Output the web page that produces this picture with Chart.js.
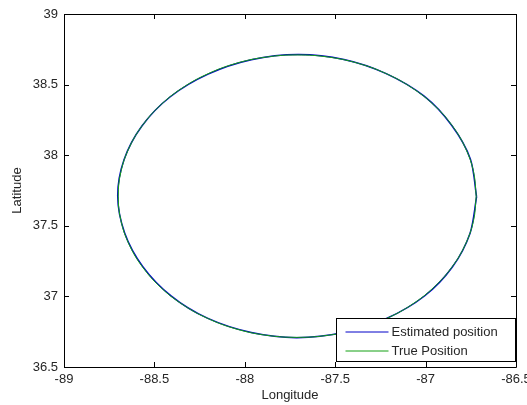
<!DOCTYPE html>
<html>
<head>
<meta charset="utf-8">
<script src="https://cdn.jsdelivr.net/npm/chart.js@4/dist/chart.umd.min.js"></script>
<style>
  html, body { margin: 0; padding: 0; background: #fff; }
  canvas { display: block; }
</style>
</head>
<body>
<canvas id="posChart" width="527" height="405"></canvas>
<script>
"use strict"

// data
const trueLon = [-86.72, -86.735, -86.78, -86.853, -86.952, -87.074, -87.215, -87.371, -87.538,
  -87.71, -87.882, -88.049, -88.205, -88.346, -88.468, -88.567, -88.64, -88.685,
  -88.70, -88.685, -88.64, -88.567, -88.468, -88.346, -88.205, -88.049, -87.882,
  -87.71, -87.538, -87.371, -87.215, -87.074, -86.952, -86.853, -86.78, -86.735, -86.72];
const trueLat = [37.71, 37.884, 38.052, 38.21, 38.353, 38.476, 38.576, 38.65, 38.695,
  38.71, 38.695, 38.65, 38.576, 38.476, 38.353, 38.21, 38.052, 37.884,
  37.71, 37.536, 37.368, 37.21, 37.067, 36.944, 36.844, 36.77, 36.725,
  36.71, 36.725, 36.77, 36.844, 36.944, 37.067, 37.21, 37.368, 37.536, 37.71];

const estLon = [-86.718, -86.752, -86.856, -87.008, -87.218, -87.452, -87.705, -87.964,
  -88.203, -88.412, -88.569, -88.668, -88.703, -88.665, -88.565, -88.408,
  -88.207, -87.964, -87.713, -87.454, -87.213, -87.006, -86.852, -86.754, -86.718];
const estLat = [37.705, 37.972, 38.212, 38.418, 38.578, 38.678, 38.713, 38.676,
  38.574, 38.414, 38.207, 37.968, 37.712, 37.451, 37.213, 37.004,
  36.846, 36.744, 36.708, 36.744, 36.846, 37.003, 37.208, 37.448, 37.705];

const xTicks = [-89, -88.5, -88, -87.5, -87, -86.5];
const yTicks = [36.5, 37, 37.5, 38, 38.5, 39];

const seriesNames = ["Estimated position", "True Position"];
const seriesColors = ["#0000c8", "#12a012"];

const fontFamily = "'Liberation Sans', Arial, Helvetica, sans-serif";
const textColor = "#262626";

function toPoints(xs, ys) {
  return xs.map((x, i) => ({ x: x, y: ys[i] }));
}

// box with inward ticks on all four sides, matlab style
const axesBox = {
  id: "axesBox",
  afterDraw(chart) {
    const ctx = chart.ctx;
    const area = chart.chartArea;
    const xs = chart.scales.x;
    const ys = chart.scales.y;
    const len = 5;
    ctx.save();
    ctx.strokeStyle = "#000";
    ctx.lineWidth = 1;
    ctx.beginPath();
    ctx.rect(Math.round(area.left) + 0.5, Math.round(area.top) + 0.5,
      Math.round(area.right - area.left), Math.round(area.bottom - area.top));
    for (let v of xTicks) {
      let px = Math.round(xs.getPixelForValue(v)) + 0.5;
      ctx.moveTo(px, area.bottom);
      ctx.lineTo(px, area.bottom - len);
      ctx.moveTo(px, area.top);
      ctx.lineTo(px, area.top + len);
    }
    for (let v of yTicks) {
      let py = Math.round(ys.getPixelForValue(v)) + 0.5;
      ctx.moveTo(area.left, py);
      ctx.lineTo(area.left + len, py);
      ctx.moveTo(area.right, py);
      ctx.lineTo(area.right - len, py);
    }
    ctx.stroke();
    ctx.restore();
  }
};

// legend box in the lower right corner of the plot
const boxLegend = {
  id: "boxLegend",
  afterDraw(chart) {
    const ctx = chart.ctx;
    const area = chart.chartArea;
    const w = 179;
    const h = 43;
    const left = Math.round(area.right) - w - 1 + 0.5;
    const top = Math.round(area.bottom) - h - 6 + 0.5;
    ctx.save();
    ctx.fillStyle = "#fff";
    ctx.strokeStyle = "#000";
    ctx.lineWidth = 1;
    ctx.fillRect(left, top, w, h);
    ctx.strokeRect(left, top, w, h);
    ctx.font = "13px " + fontFamily;
    ctx.textBaseline = "middle";
    ctx.fillStyle = textColor;
    chart.data.datasets.forEach((ds, i) => {
      let y = Math.round(top + 13 + i * 19);
      ctx.strokeStyle = ds.borderColor;
      ctx.beginPath();
      ctx.moveTo(left + 9, y);
      ctx.lineTo(left + 52, y);
      ctx.stroke();
      ctx.fillText(ds.label, left + 55, y);
    });
    ctx.restore();
  }
};

const ctx = document.getElementById("posChart").getContext("2d");

const posChart = new Chart(ctx, {
  type: "scatter",
  data: {
    datasets: [{
      label: seriesNames[0],
      data: toPoints(estLon, estLat),
      showLine: true,
      borderColor: seriesColors[0],
      borderWidth: 1.5,
      pointRadius: 0,
      tension: 0.3,
      order: 2
    }, {
      label: seriesNames[1],
      data: toPoints(trueLon, trueLat),
      showLine: true,
      borderColor: seriesColors[1],
      borderWidth: 1,
      pointRadius: 0,
      tension: 0.4,
      order: 1
    }]
  },
  options: {
    responsive: false,
    animation: false,
    layout: { padding: { top: 14, right: 11, left: 0, bottom: 0 } },
    plugins: {
      legend: { display: false },
      tooltip: { enabled: false }
    },
    scales: {
      x: {
        type: "linear",
        min: -89,
        max: -86.5,
        grid: { display: false, drawTicks: false },
        border: { display: false },
        afterBuildTicks: (scale) => { scale.ticks = xTicks.map(v => ({ value: v })); },
        afterFit: (scale) => {
          scale.height = 38;
          scale.paddingLeft = 0;
          scale.paddingRight = 0;
        },
        ticks: {
          padding: 5,
          maxRotation: 0,
          color: textColor,
          font: { family: fontFamily, size: 13 },
          callback: (value) => String(value)
        },
        title: {
          display: true,
          text: "Longitude",
          color: textColor,
          padding: { top: 0, bottom: 2 },
          font: { family: fontFamily, size: 13 }
        }
      },
      y: {
        type: "linear",
        min: 36.5,
        max: 39,
        grid: { display: false, drawTicks: false },
        border: { display: false },
        afterBuildTicks: (scale) => { scale.ticks = yTicks.map(v => ({ value: v })); },
        afterFit: (scale) => {
          scale.width = 64;
          scale.paddingTop = 0;
          scale.paddingBottom = 0;
        },
        ticks: {
          padding: 6,
          color: textColor,
          font: { family: fontFamily, size: 13 },
          callback: (value) => String(value)
        },
        title: {
          display: true,
          text: "Latitude",
          color: textColor,
          padding: { top: 10, bottom: 0 },
          font: { family: fontFamily, size: 13 }
        }
      }
    }
  },
  plugins: [axesBox, boxLegend]
});
</script>
</body>
</html>
